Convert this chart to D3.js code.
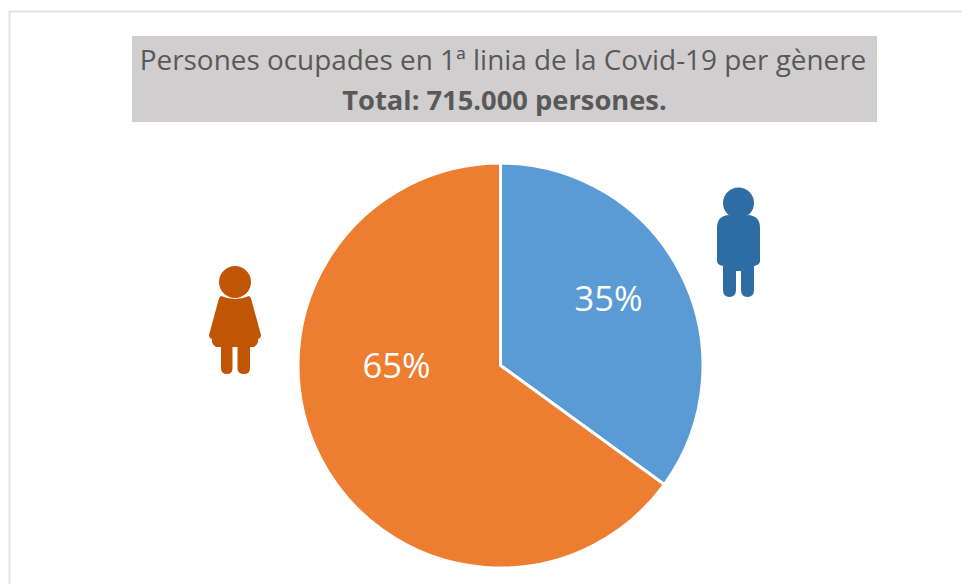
<!DOCTYPE html>
<html lang="ca">
<head>
  <meta charset="UTF-8" />
  <title>Persones ocupades en 1a linia de la Covid-19 per gènere</title>
  <script src="https://cdn.jsdelivr.net/npm/d3@7"></script>
  <style>
    html, body { margin: 0; padding: 0; background: #fff; overflow: hidden; }
    svg { display: block; }
    text { font-family: "Open Sans", sans-serif; }
  </style>
</head>
<body>
  <script>
    // data
    const categories = ["Homes", "Dones"];
    const shares = [35, 65];
    const titleLines = ["Persones ocupades en 1ª linia de la Covid-19 per gènere", "Total: 715.000 persones."];

    // layout
    const width = 962, height = 584;
    const center = { x: 500.5, y: 365.5 };
    const radius = 202.5;
    const colors = d3.scaleOrdinal().domain(categories).range(["#5b9bd5", "#ed7d31"]);
    const iconColors = d3.scaleOrdinal().domain(categories).range(["#2e6ca4", "#c05505"]);
    // labels were placed by hand in the original, not on the centroid
    const labelOffset = { Homes: [108, -67], Dones: [-104, 0] };

    const svg = d3.select("body").append("svg")
      .attr("width", width)
      .attr("height", height);

    // chart frame (only left and top edges are in the crop)
    svg.append("path")
      .attr("d", "M9.5,584V11.5H962")
      .attr("fill", "none")
      .attr("stroke", "#e4e4e4")
      .attr("stroke-width", 2);

    // title box
    svg.append("rect")
      .attr("x", 132).attr("y", 36)
      .attr("width", 745).attr("height", 86)
      .attr("fill", "#d0cece");

    svg.append("text")
      .attr("x", 503).attr("y", 70)
      .attr("text-anchor", "middle")
      .attr("font-size", 27.9)
      .attr("fill", "#595959")
      .text(titleLines[0]);

    svg.append("text")
      .attr("x", 504.5).attr("y", 110)
      .attr("text-anchor", "middle")
      .attr("font-size", 27.3)
      .attr("font-weight", 700)
      .attr("fill", "#595959")
      .text(titleLines[1]);

    // pie
    const pie = d3.pie().sort(null).value(d => d.value);
    const arc = d3.arc().innerRadius(0).outerRadius(radius);
    const slices = pie(categories.map((c, i) => ({ category: c, value: shares[i] })));

    const g = svg.append("g").attr("transform", `translate(${center.x},${center.y})`);

    g.selectAll("path")
      .data(slices)
      .join("path")
      .attr("d", arc)
      .attr("fill", d => colors(d.data.category))
      .attr("stroke", "#fff")
      .attr("stroke-width", 3);

    g.selectAll("text")
      .data(slices)
      .join("text")
      .attr("x", d => labelOffset[d.data.category][0])
      .attr("y", d => labelOffset[d.data.category][1])
      .attr("dy", "0.36em")
      .attr("text-anchor", "middle")
      .attr("font-size", 34.5)
      .attr("fill", "#fff")
      .text(d => d.data.value + "%");

    // person icons
    function drawMan(x, y, color) {
      const p = svg.append("g").attr("transform", `translate(${x},${y})`).attr("fill", color);
      p.append("circle").attr("cx", 0).attr("cy", -15).attr("r", 15.5);
      p.append("path").attr("d", "M-21.5,10 Q-21.5,-2 -10,-3 Q0,3 10,-3 Q21.5,-2 21.5,10 V43 Q21.5,47 15.5,48 V72 Q15.5,79 9,79 Q2.5,79 2.5,72 V53 H-2.5 V72 Q-2.5,79 -9,79 Q-15.5,79 -15.5,72 V48 Q-21.5,47 -21.5,43 Z");
    }

    function drawWoman(x, y, color) {
      const p = svg.append("g").attr("transform", `translate(${x},${y})`).attr("fill", color);
      p.append("circle").attr("cx", 0).attr("cy", -14).attr("r", 16);
      p.append("path").attr("d", "M-14,0 Q0,6 14,0 Q16,1 17,6 L26,39 Q26,42 23,43 Q24,48 19,51 H15 V72 Q15,78 9,78 Q2.5,78 2.5,72 V51 H-2.5 V72 Q-2.5,78 -8,78 Q-14,78 -14,72 V51 H-19 Q-24,48 -23,43 Q-26,42 -26,39 L-17,6 Q-16,1 -14,0 Z");
    }

    drawMan(738.5, 218, iconColors("Homes"));
    drawWoman(235, 296, iconColors("Dones"));
  </script>
</body>
</html>
